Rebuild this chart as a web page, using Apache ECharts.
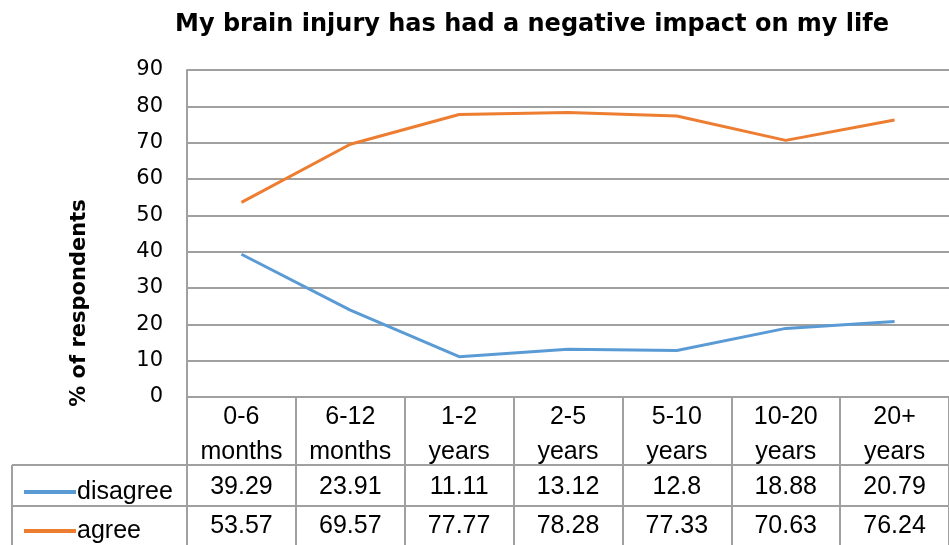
<!DOCTYPE html>
<html><head><meta charset="utf-8">
<script src="https://cdn.jsdelivr.net/npm/echarts@6/dist/echarts.min.js"></script>
<style>html,body{margin:0;padding:0;background:#fff}#c{width:949px;height:545px}</style>
</head><body><div id="c"></div>
<script>
const categories = ['0-6\nmonths','6-12\nmonths','1-2\nyears','2-5\nyears','5-10\nyears','10-20\nyears','20+\nyears'];
const disagree = [39.29, 23.91, 11.11, 13.12, 12.8, 18.88, 20.79];
const agree = [53.57, 69.57, 77.77, 78.28, 77.33, 70.63, 76.24];
const seriesNames = ['disagree', 'agree'];
const yTicks = {min: 0, max: 90, interval: 10};

const chart = echarts.init(document.getElementById('c'));
const gridC = '#a0a0a0';
const tableFont = {fontFamily: 'Liberation Sans', fontSize: 25, color: '#000'};
function valAxis(vals, offset) {
  return {
    type: 'category', data: categories, position: 'bottom', offset: offset,
    axisLine: {show: false}, axisTick: {show: false},
    axisLabel: Object.assign({margin: 0, lineHeight: 28, formatter: (v, i) => String(vals[i])}, tableFont)
  };
}
function legendFor(name, top) {
  return {
    data: [name], orient: 'vertical', left: 19, top: top,
    icon: 'rect', itemWidth: 52, itemHeight: 4,
    textStyle: Object.assign({padding: [0, 0, 0, -4], lineHeight: 28}, tableFont)
  };
}
chart.setOption({
  animation: false,
  title: {
    text: 'My brain injury has had a negative impact on my life',
    left: 527, textAlign: 'center', top: 8,
    textStyle: {fontFamily: 'DejaVu Sans', fontWeight: 'bold', fontSize: 24, color: '#000'}
  },
  legend: [legendFor(seriesNames[0], 473), legendFor(seriesNames[1], 512)],
  grid: {left: 187, right: -10, top: 70, bottom: 148, containLabel: false},
  xAxis: [
    {
      type: 'category', data: categories, boundaryGap: true,
      axisLine: {lineStyle: {color: gridC, width: 2}},
      axisTick: {show: true, length: 148, lineStyle: {color: gridC, width: 2}},
      axisLabel: Object.assign({margin: 3, lineHeight: 35, interval: 0}, tableFont)
    },
    valAxis(disagree, 76),
    valAxis(agree, 115)
  ],
  yAxis: {
    type: 'value', min: yTicks.min, max: yTicks.max, interval: yTicks.interval,
    axisLine: {show: true, lineStyle: {color: gridC, width: 2}},
    axisTick: {show: false},
    splitLine: {lineStyle: {color: gridC, width: 2}},
    axisLabel: {margin: 24, fontFamily: 'DejaVu Sans', fontSize: 21, color: '#000'}
  },
  graphic: [
    {type: 'text', x: 80, y: 303, rotation: Math.PI / 2,
      style: {text: '% of respondents', font: 'bold 21px "DejaVu Sans"', fill: '#000', textAlign: 'center', textVerticalAlign: 'middle'}},
    {type: 'line', shape: {x1: 12, y1: 465, x2: 949, y2: 465}, style: {stroke: gridC, lineWidth: 2}},
    {type: 'line', shape: {x1: 12, y1: 506, x2: 949, y2: 506}, style: {stroke: gridC, lineWidth: 2}},
    {type: 'line', shape: {x1: 12, y1: 465, x2: 12, y2: 545}, style: {stroke: gridC, lineWidth: 2}}
  ],
  series: [
    {name: seriesNames[0], type: 'line', data: disagree, symbol: 'none', lineStyle: {color: '#5B9BD5', width: 3}, itemStyle: {color: '#5B9BD5'}},
    {name: seriesNames[1], type: 'line', data: agree, symbol: 'none', lineStyle: {color: '#ED7D31', width: 3}, itemStyle: {color: '#ED7D31'}}
  ]
});
</script></body></html>
